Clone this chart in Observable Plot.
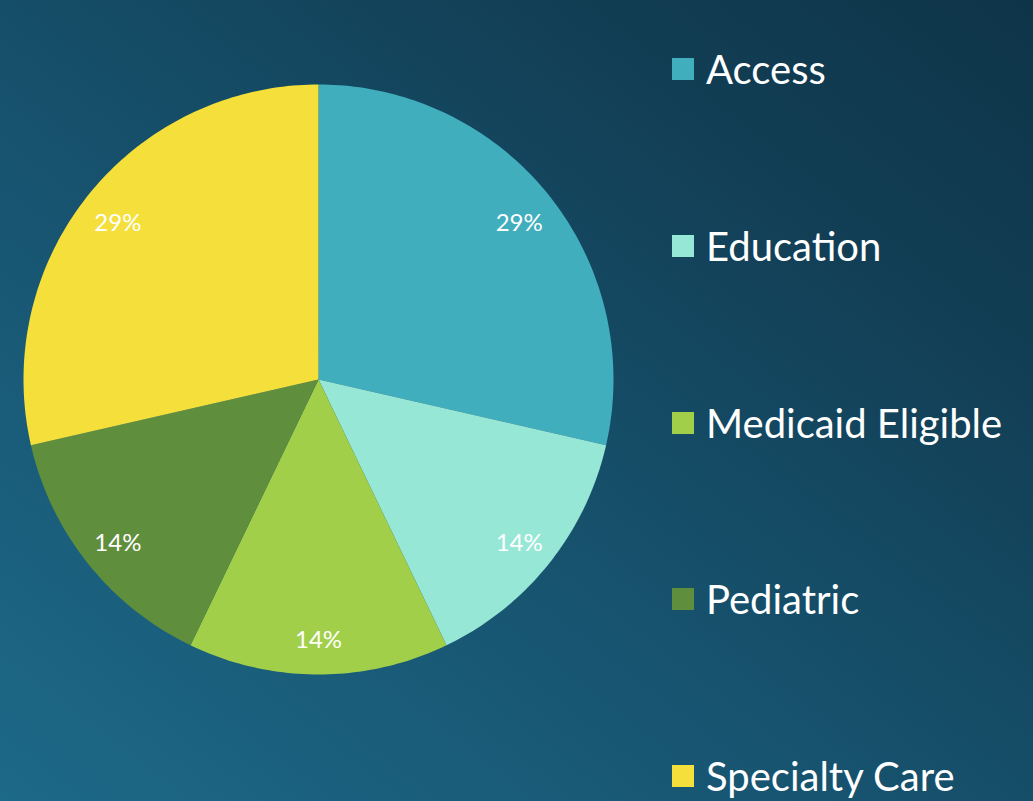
<!DOCTYPE html>
<html>
<head>
<meta charset="utf-8">
<script src="https://cdn.jsdelivr.net/npm/d3@7"></script>
<script src="https://cdn.jsdelivr.net/npm/@observablehq/plot@0.6"></script>
<style>
  html, body { margin: 0; padding: 0; }
  body { width: 1033px; height: 801px; overflow: hidden; }
  #wrap {
    position: relative; width: 1033px; height: 801px;
    background: linear-gradient(to top right, #1d6988 0%, #175470 40%, #123f56 75%, #0e3448 100%);
    font-family: Lato, "Open Sans", sans-serif;
  }
  #chart { position: absolute; left: 0; top: 0; }
  #legend { position: absolute; left: 672px; top: 0; }
  .item { position: absolute; left: 0; display: flex; align-items: center; white-space: nowrap; color: #ffffff; font-size: 40px; }
  .sw { width: 22px; height: 22px; margin-right: 12px; flex: none; }
</style>
</head>
<body>
<div id="wrap">
  <div id="chart"></div>
  <div id="legend"></div>
</div>
<script>
const categories = ["Access", "Education", "Medicaid Eligible", "Pediatric", "Specialty Care"];
const values = [2, 1, 1, 1, 2];
const labels = ["29%", "14%", "14%", "14%", "29%"];
const colors = ["#41aebd", "#97e7d6", "#a2cf4a", "#5f8f3d", "#f4df3b"];

const pie = d3.pie().sort(null).value(d => d.value)(categories.map((c, i) => ({cat: c, value: values[i], label: labels[i]})));

const pts = [];
for (const s of pie) {
  pts.push({cat: s.data.cat, x: 0, y: 0});
  const n = Math.max(2, Math.ceil((s.endAngle - s.startAngle) * 180 / Math.PI));
  for (let k = 0; k <= n; k++) {
    const a = s.startAngle + (s.endAngle - s.startAngle) * k / n;
    pts.push({cat: s.data.cat, x: Math.sin(a), y: Math.cos(a)});
  }
}
const lab = pie.map(s => {
  const a = (s.startAngle + s.endAngle) / 2;
  return {label: s.data.label, x: 0.87 * Math.sin(a), y: 0.87 * Math.cos(a)};
});

const plot = Plot.plot({
  width: 1033,
  height: 801,
  marginLeft: 23,
  marginRight: 420,
  marginTop: 84,
  marginBottom: 127,
  x: {domain: [-1, 1], axis: null},
  y: {domain: [-1, 1], axis: null},
  color: {domain: categories, range: colors},
  style: {background: "transparent", overflow: "visible"},
  marks: [
    Plot.line(pts, {x: "x", y: "y", z: "cat", fill: "cat", stroke: "none", curve: "linear-closed"}),
    Plot.text(lab, {x: "x", y: "y", text: "label", dy: 4, fill: "white", fontSize: 24, fontFamily: "Lato, 'Open Sans', sans-serif"})
  ]
});
document.getElementById("chart").appendChild(plot);

const legendTops = [69, 246, 423, 599, 776];
const leg = document.getElementById("legend");
categories.forEach((c, i) => {
  const d = document.createElement("div");
  d.className = "item";
  d.style.top = (legendTops[i] - 25) + "px";
  d.style.height = "50px";
  d.innerHTML = `<span class="sw" style="background:${colors[i]}"></span><span>${c}</span>`;
  leg.appendChild(d);
});
</script>
</body>
</html>
